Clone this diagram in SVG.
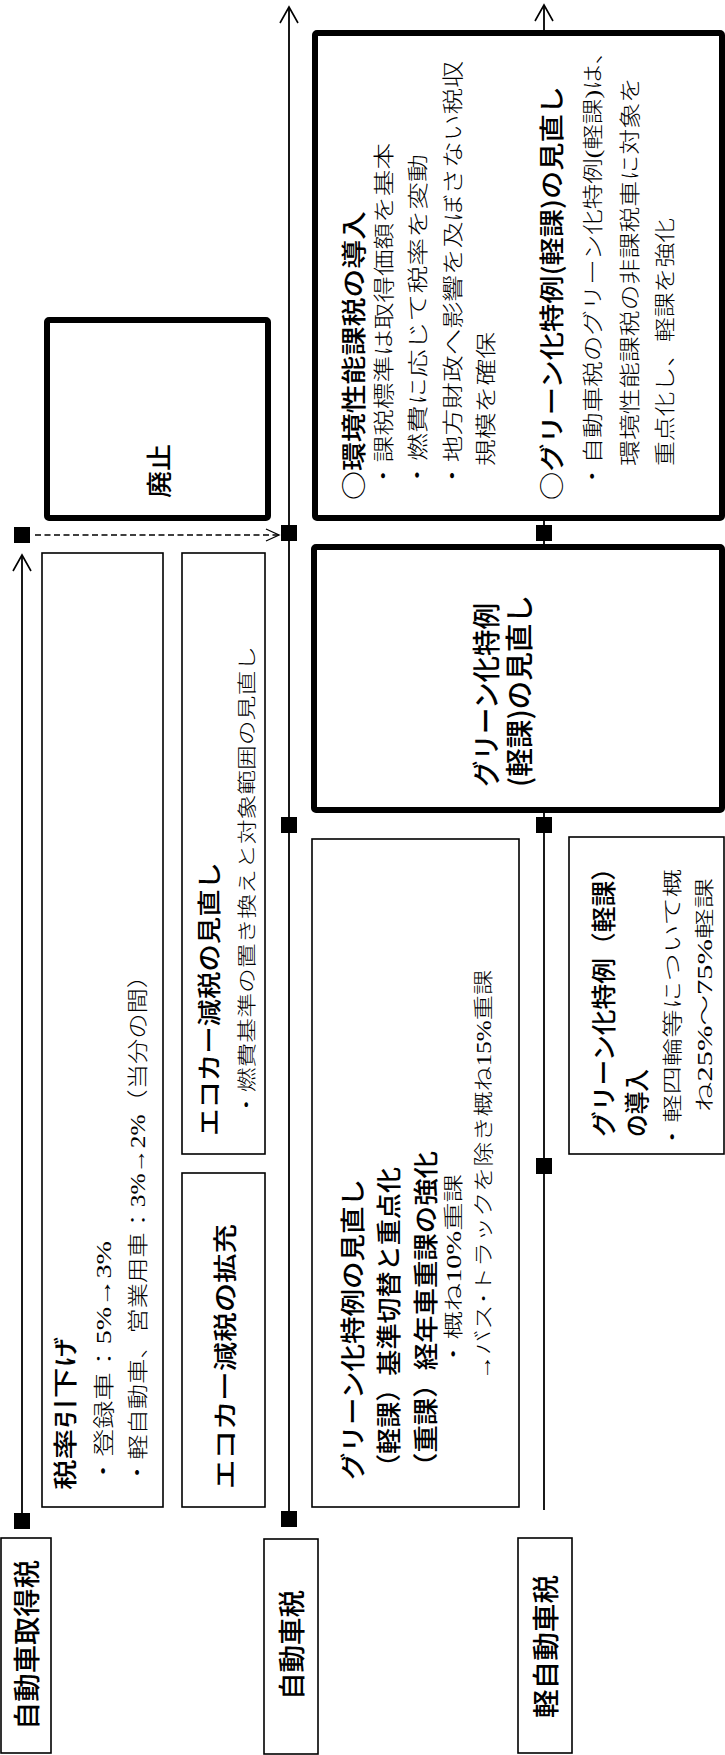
<svg xmlns="http://www.w3.org/2000/svg" width="725" height="1755" viewBox="0 0 725 1755">
<style>
.box{fill:#fff;stroke:#000;stroke-width:1.6}
.thick{fill:#fff;stroke:#000;stroke-width:6;stroke-linejoin:round}
.line{fill:none;stroke:#000;stroke-width:1.8}
.sq{fill:#000}
.t{font-family:"Noto Sans CJK JP",sans-serif;font-weight:500;dominant-baseline:central;fill:#000}
.b{font-family:"Liberation Serif","Noto Sans CJK JP",serif;font-weight:300;dominant-baseline:central;fill:#000}
</style>
<defs>
<marker id="ah" markerUnits="userSpaceOnUse" markerWidth="20" markerHeight="22" refX="17" refY="11" orient="auto">
<path d="M1,2 L17,11 L1,20" fill="none" stroke="#000" stroke-width="1.6"/>
</marker>
<marker id="ahs" markerUnits="userSpaceOnUse" markerWidth="16" markerHeight="14" refX="14" refY="7" orient="auto">
<path d="M1,1 L14,7 L1,13" fill="none" stroke="#000" stroke-width="1.3"/>
</marker>
</defs>
<rect width="725" height="1755" fill="#fff"/>
<g transform="translate(0,1755) rotate(-90)">
<g id="connectors">
<line class="line" x1="234" y1="22" x2="1200" y2="22" marker-end="url(#ah)"/>
<line class="line" x1="236" y1="289" x2="1748" y2="289" marker-end="url(#ah)"/>
<line class="line" x1="245" y1="544" x2="1750" y2="544" stroke-width="2.2" marker-end="url(#ah)"/>
<line x1="1220" y1="35" x2="1220" y2="279" fill="none" stroke="#000" stroke-width="1.3" stroke-dasharray="6 3.5" marker-end="url(#ahs)"/>
<rect class="sq" x="226" y="14" width="16" height="16"/>
<rect class="sq" x="1212" y="14" width="16" height="16"/>
<rect class="sq" x="228" y="281" width="16" height="16"/>
<rect class="sq" x="922" y="281" width="16" height="16"/>
<rect class="sq" x="1214" y="281" width="16" height="16"/>
<rect class="sq" x="581" y="536" width="16" height="16"/>
<rect class="sq" x="922" y="536" width="16" height="16"/>
<rect class="sq" x="1214" y="536" width="16" height="16"/>
</g>
<g id="label-shutoku">
<rect class="box" x="2" y="1" width="215" height="50"/>
<text class="t" x="25" y="25" font-size="27" textLength="170" lengthAdjust="spacingAndGlyphs">自動車取得税</text>
</g>
<g id="label-jidoshazei">
<rect class="box" x="1" y="264" width="215" height="54"/>
<text class="t" x="55" y="290" font-size="27" textLength="110" lengthAdjust="spacingAndGlyphs">自動車税</text>
</g>
<g id="label-kei">
<rect class="box" x="2" y="518" width="215" height="54"/>
<text class="t" x="37" y="544" font-size="27" textLength="143" lengthAdjust="spacingAndGlyphs">軽自動車税</text>
</g>
<g id="zeiritsu">
<rect class="box" x="248" y="42" width="954" height="121"/>
<text class="t" x="265" y="63" font-size="24" textLength="153" lengthAdjust="spacingAndGlyphs">税率引下げ</text>
<text class="b" x="270" y="104" font-size="21" textLength="244" lengthAdjust="spacingAndGlyphs">・登録車：5%→3%</text>
<text class="b" x="270" y="138" font-size="21" textLength="522" lengthAdjust="spacingAndGlyphs">・軽自動車、営業用車：3%→2%（当分の間）</text>
</g>
<g id="ecocar-kakuju">
<rect class="box" x="248" y="182" width="334" height="83"/>
<text class="t" x="266" y="223" font-size="24" textLength="265" lengthAdjust="spacingAndGlyphs">エコカー減税の拡充</text>
</g>
<g id="ecocar-minaoshi">
<rect class="box" x="601" y="182" width="601" height="83"/>
<text class="t" x="619" y="207" font-size="24" textLength="274" lengthAdjust="spacingAndGlyphs">エコカー減税の見直し</text>
<text class="b" x="638" y="247" font-size="19" textLength="471" lengthAdjust="spacingAndGlyphs">・燃費基準の置き換えと対象範囲の見直し</text>
</g>
<g id="haishi">
<rect class="thick" x="1237" y="47" width="198" height="221" rx="2"/>
<text class="t" x="1257" y="157" font-size="26" textLength="54" lengthAdjust="spacingAndGlyphs">廃止</text>
</g>
<g id="green-jidoshazei">
<rect class="box" x="248" y="312" width="668" height="207"/>
<text class="t" x="275" y="351" font-size="25" textLength="301" lengthAdjust="spacingAndGlyphs">グリーン化特例の見直し</text>
<text class="t" x="275" y="387" font-size="25" textLength="313" lengthAdjust="spacingAndGlyphs">（軽課）基準切替と重点化</text>
<text class="t" x="275" y="424" font-size="25" textLength="329" lengthAdjust="spacingAndGlyphs">（重課）経年車重課の強化</text>
<text class="b" x="387" y="454" font-size="20" textLength="194" lengthAdjust="spacingAndGlyphs">・概ね10%重課</text>
<text class="b" x="375" y="484" font-size="20" textLength="410" lengthAdjust="spacingAndGlyphs">→バス･トラックを除き概ね15%重課</text>
</g>
<g id="green-kei-donyu">
<rect class="box" x="601" y="569" width="317" height="155"/>
<text class="t" x="618" y="602" font-size="25" textLength="282" lengthAdjust="spacingAndGlyphs">グリーン化特例（軽課）</text>
<text class="t" x="618" y="635" font-size="25" textLength="68" lengthAdjust="spacingAndGlyphs">の導入</text>
<text class="b" x="604" y="673" font-size="20" textLength="282" lengthAdjust="spacingAndGlyphs">・軽四輪等について概</text>
<text class="b" x="643" y="705" font-size="20" textLength="234" lengthAdjust="spacingAndGlyphs">ね25%～75%軽課</text>
</g>
<g id="green-kei-minaoshi">
<rect class="thick" x="945" y="314" width="263" height="408" rx="2"/>
<text class="t" x="968" y="485" font-size="28" textLength="184" lengthAdjust="spacingAndGlyphs">グリーン化特例</text>
<text class="t" x="968" y="518" font-size="28" textLength="192" lengthAdjust="spacingAndGlyphs">(軽課)の見直し</text>
</g>
<g id="kankyo-seino">
<rect class="thick" x="1237" y="315" width="485" height="407" rx="2"/>
<text class="t" x="1255" y="352" font-size="25" textLength="289" lengthAdjust="spacingAndGlyphs">○環境性能課税の導入</text>
<text class="b" x="1266" y="384" font-size="21" textLength="346" lengthAdjust="spacingAndGlyphs">・課税標準は取得価額を基本</text>
<text class="b" x="1266" y="418" font-size="21" textLength="335" lengthAdjust="spacingAndGlyphs">・燃費に応じて税率を変動</text>
<text class="b" x="1266" y="453" font-size="21" textLength="428" lengthAdjust="spacingAndGlyphs">・地方財政へ影響を及ぼさない税収</text>
<text class="b" x="1289" y="486" font-size="21" textLength="134" lengthAdjust="spacingAndGlyphs">規模を確保</text>
<text class="t" x="1255" y="550" font-size="25" textLength="414" lengthAdjust="spacingAndGlyphs">○グリーン化特例(軽課)の見直し</text>
<text class="b" x="1266" y="593" font-size="21" textLength="450" lengthAdjust="spacingAndGlyphs">・自動車税のグリーン化特例(軽課)は、</text>
<text class="b" x="1289" y="630" font-size="21" textLength="389" lengthAdjust="spacingAndGlyphs">環境性能課税の非課税車に対象を</text>
<text class="b" x="1289" y="665" font-size="21" textLength="248" lengthAdjust="spacingAndGlyphs">重点化し、軽課を強化</text>
</g>
</g>
</svg>
